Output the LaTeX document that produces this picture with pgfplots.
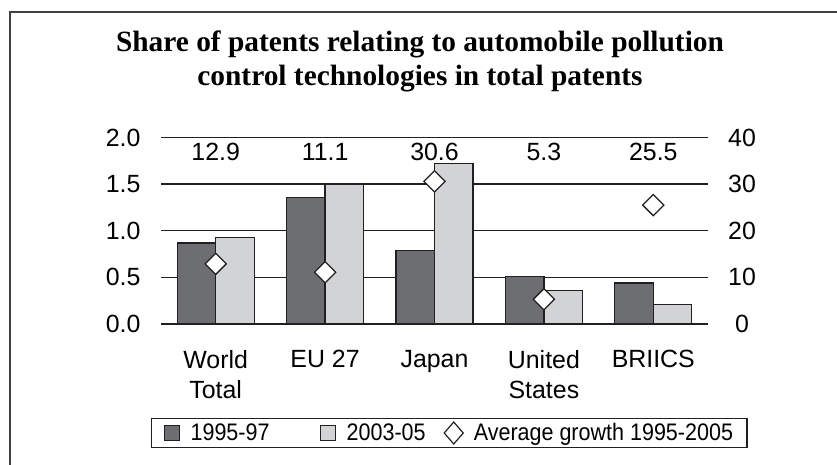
\documentclass[border=0pt]{standalone}
\usepackage{pgfplots}
\pgfplotsset{compat=1.18}
\usepackage{fontspec}
\setmainfont{Liberation Sans}
\newfontfamily\titlefont{Liberation Serif}
\newfontfamily\legendfont[FakeStretch=0.9]{Liberation Sans}
\definecolor{darkbar}{HTML}{6D6E71}
\definecolor{lightbar}{HTML}{D1D3D4}
\definecolor{edge}{HTML}{231F20}
\newcommand\lbl{\fontsize{25}{30}\selectfont}
\newcommand\lgd{\legendfont\fontsize{24}{28}\selectfont}
\newcommand\ttl{\titlefont\bfseries\fontsize{29.5}{34}\selectfont}
\begin{document}
\begin{tikzpicture}
\path[use as bounding box] (0,0) rectangle (837bp,465bp);
\draw[color=black!75, line width=1.3bp] (10bp,0) -- (10bp,453bp) -- (837bp,453bp);
\node[font=\ttl, anchor=base] at (420bp,413bp) {Share of patents relating to automobile pollution};
\node[font=\ttl, anchor=base] at (420bp,379bp) {control technologies in total patents};
\begin{axis}[
  at={(161bp,141bp)}, anchor=south west,
  scale only axis, width=547bp, height=186.5bp,
  xmin=-0.5, xmax=4.5, ymin=0, ymax=2,
  ybar=0pt, bar width=38.5bp,
  xtick={0,1,2,3,4},
  xticklabels={{World\\Total},{EU 27},{Japan},{United\\States},{BRIICS}},
  xticklabel style={align=center, anchor=north, font=\lbl, yshift=-23bp},
  ytick={0,0.5,1,1.5,2},
  yticklabel style={font=\lbl, xshift=-17bp, /pgf/number format/fixed, /pgf/number format/fixed zerofill, /pgf/number format/precision=1},
  /pgf/number format/assume math mode=true,
  axis x line*=bottom, axis y line*=left,
  axis line style={-},
  y axis line style={draw=none},
  x axis line style={edge, line width=2bp},
  major tick length=0,
  ymajorgrids, grid style={edge, line width=1.3bp},
  clip=false,
]
\addplot[fill=darkbar, draw=edge, line width=1.3bp] coordinates {(0,0.87) (1,1.355) (2,0.785) (3,0.51) (4,0.44)};
\addplot[fill=lightbar, draw=edge, line width=1.3bp] coordinates {(0,0.93) (1,1.50) (2,1.72) (3,0.36) (4,0.21)};
\node[font=\lbl] at (axis cs:0,1.845) {12.9};
\node[font=\lbl] at (axis cs:1,1.845) {11.1};
\node[font=\lbl] at (axis cs:2,1.845) {30.6};
\node[font=\lbl] at (axis cs:3,1.845) {5.3};
\node[font=\lbl] at (axis cs:4,1.845) {25.5};
\end{axis}
\begin{axis}[
  at={(161bp,141bp)}, anchor=south west,
  scale only axis, width=547bp, height=186.5bp,
  xmin=-0.5, xmax=4.5, ymin=0, ymax=40,
  axis x line=none, axis y line*=right,
  axis line style={-},
  y axis line style={draw=none},
  ytick={0,10,20,30,40},
  yticklabel style={font=\lbl, anchor=center, xshift=34bp},
  /pgf/number format/assume math mode=true,
  major tick length=0,
  clip=false,
  legend columns=3,
  legend style={at={(0.527,-0.5845)}, anchor=center, draw=edge, line width=1.2bp, font=\lgd,
    inner xsep=12bp, inner ysep=3bp,
    /tikz/column 2/.style={column sep=48bp},
    /tikz/column 4/.style={column sep=16bp}},
  legend cell align=left,
]
\addlegendimage{legend image code/.code={\draw[fill=darkbar, draw=edge, line width=1bp] (0bp,-7.5bp) rectangle (15bp,7.5bp); \path (24bp,0bp);}}
\addlegendentry{1995-97}
\addlegendimage{legend image code/.code={\draw[fill=lightbar, draw=edge, line width=1bp] (0bp,-7.5bp) rectangle (15bp,7.5bp); \path (24bp,0bp);}}
\addlegendentry{2003-05}
\addplot[only marks, mark=square*, mark size=7.5bp, mark options={rotate=45, fill=white, draw=edge, line width=1.3bp},
  legend image code/.code={\draw[fill=white, draw=edge, line width=1.2bp] (9.5bp,11bp) -- (19bp,0bp) -- (9.5bp,-11bp) -- (0bp,0bp) -- cycle; \path (27bp,0bp);}]
  coordinates {(0,12.9) (1,11.1) (2,30.6) (3,5.3) (4,25.5)};
\addlegendentry{Average growth 1995-2005}
\end{axis}
\end{tikzpicture}
\end{document}
